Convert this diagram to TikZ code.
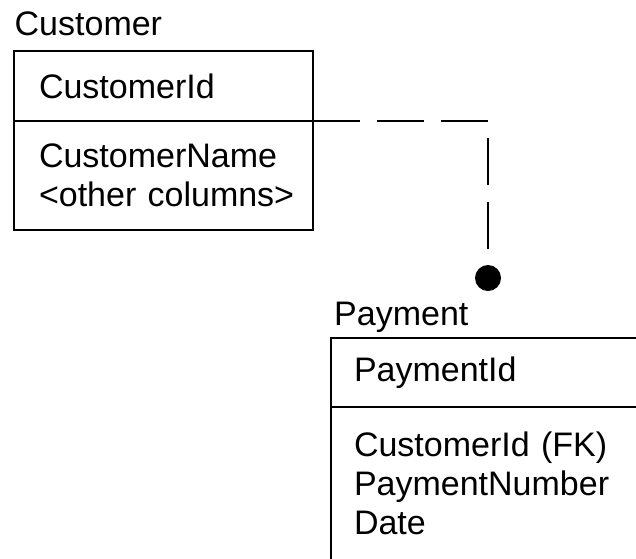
\documentclass[tikz,border=0pt]{standalone}
\usepackage{fontspec}
\setmainfont{Liberation Sans}
\begin{document}
\begin{tikzpicture}[x=1pt,y=-1pt,
  every node/.style={font=\fontsize{34}{39}\selectfont},
  label text/.style={anchor=base west,inner sep=0pt},
  compartment/.style={draw,line width=2pt,outer sep=0pt,anchor=north west,
    align=left,inner ysep=0pt},
  keybox/.style={compartment,minimum height=#1},
  attrbox/.style={compartment,minimum height=#1},
  relation/.style={line width=2pt,dash pattern=on 47pt off 17pt},
  endpoint/.style={circle,fill,inner sep=0pt,minimum size=26pt}]
  \clip (0,0) rectangle (636,558);

  % Customer entity
  \node[label text] (custTitle) at (14.5,35) {Customer};
  \node[keybox=70pt,text width=249pt,inner xsep=25pt] (custKey) at (14,51) {CustomerId};
  \node[attrbox=109pt,text width=249pt,inner xsep=25pt] (custAttrs) at (custKey.south west)
    {\mbox{CustomerName}\\\mbox{<other columns>}};

  % Payment entity
  \node[label text] (payTitle) at (334,325) {Payment};
  \node[keybox=69pt,text width=323pt,inner xsep=23pt] (payKey) at (331,338) {PaymentId};
  \node[attrbox=153pt,text width=323pt,inner xsep=23pt] (payAttrs) at (payKey.south west)
    {\mbox{CustomerId (FK)}\\\mbox{PaymentNumber}\\\mbox{Date}};

  % Relationship: non-identifying, many end marked by a dot
  \node[endpoint] (dot) at (488,278) {};
  \draw[relation] (custKey.south east) -| (dot.north);
\end{tikzpicture}
\end{document}
